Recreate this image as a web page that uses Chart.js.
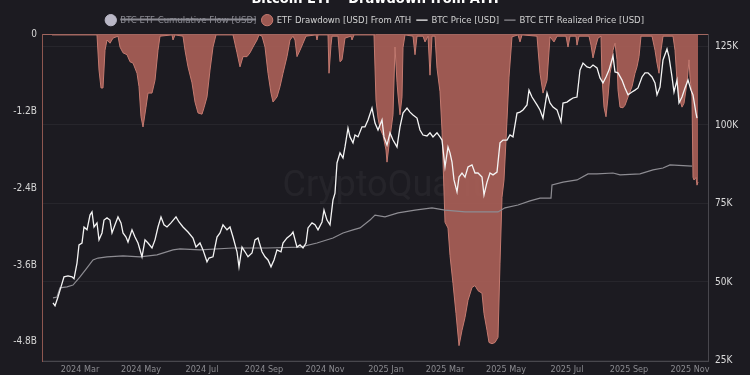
<!DOCTYPE html>
<html>
<head>
<meta charset="utf-8">
<script src="https://cdn.jsdelivr.net/npm/chart.js@4.4.1/dist/chart.umd.min.js"></script>
<style>
  html, body { margin: 0; padding: 0; background: #1c1b21; overflow: hidden; }
  #wrap { position: absolute; left: 0; top: -14px; width: 750px; height: 389px; }
</style>
</head>
<body>
<div id="wrap"><canvas id="chart"></canvas></div>
<script>
// --- x axis: days counted from 2024-01-01 ---
const tickDays = [60, 121, 182, 244, 305, 366, 425, 486, 547, 609, 670];
const tickLabels = ['2024 Mar', '2024 May', '2024 Jul', '2024 Sep', '2024 Nov', '2025 Jan',
                    '2025 Mar', '2025 May', '2025 Jul', '2025 Sep', '2025 Nov'];

// left axis (billions USD) and right axis (thousands USD)
const drawdownTicks = [0, -1.2, -2.4, -3.6, -4.8];
const priceTicks = [25, 50, 75, 100, 125];

// BTC price [USD, thousands]
const priceDays = [
  33, 35, 38, 41, 44, 48, 52, 54, 57, 59,
  62, 64, 67, 70, 72, 74, 77, 79, 82, 84,
  87, 90, 92, 95, 98, 101, 103, 106, 108, 112,
  115, 118, 122, 125, 128, 132, 135, 138, 141, 144,
  147, 151, 156, 159, 163, 168, 173, 176, 180, 183,
  187, 189, 193, 197, 200, 203, 207, 210, 213, 217,
  219, 222, 225, 228, 232, 235, 238, 242, 245, 248,
  251, 254, 257, 261, 263, 267, 271, 273, 277, 280,
  283, 286, 288, 292, 295, 298, 302, 304, 307, 310,
  313, 315, 317, 320, 323, 325, 328, 330, 333, 335,
  338, 342, 345, 348, 352, 355, 358, 362, 364, 367,
  370, 373, 377, 380, 383, 387, 390, 393, 397, 400,
  403, 407, 410, 413, 417, 420, 422, 425, 428, 430,
  432, 434, 437, 439, 442, 445, 448, 452, 455, 458,
  462, 464, 467, 470, 473, 477, 480, 483, 487, 490,
  493, 497, 500, 503, 507, 509, 512, 517, 520, 523,
  527, 530, 533, 537, 541, 543, 547, 550, 553, 557,
  560, 563, 567, 570, 573, 577, 580, 583, 586, 589,
  593, 595, 598, 602, 605, 608, 612, 615, 618, 622,
  625, 628, 632, 635, 637, 640, 643, 647, 649, 652,
  654, 657, 659, 662, 665, 668, 671, 673, 676, 677
];
const priceValues = [
  43.3, 42.4, 45.2, 48.4, 51.6, 51.9, 51.6, 51.0, 56.0, 61.8,
  62.4, 67.5, 66.6, 71.3, 72.3, 67.5, 68.8, 63.4, 65.6, 69.7,
  70.4, 69.7, 65.6, 68.2, 70.7, 68.8, 65.6, 64.3, 62.7, 66.6,
  64.3, 62.4, 58.0, 63.4, 62.4, 60.8, 63.4, 67.5, 70.7, 68.2,
  67.5, 68.8, 70.7, 69.1, 67.5, 65.9, 64.0, 61.1, 62.4, 60.2,
  56.4, 57.6, 58.0, 64.3, 65.6, 68.2, 66.6, 67.5, 64.3, 59.6,
  54.8, 61.1, 59.6, 58.0, 59.2, 63.4, 64.0, 59.6, 58.0, 57.0,
  54.8, 57.0, 60.2, 59.6, 62.4, 64.0, 65.0, 65.9, 61.1, 61.8,
  60.8, 62.4, 67.2, 68.8, 68.2, 66.6, 69.1, 72.9, 69.7, 68.2,
  76.1, 78.3, 87.9, 91.1, 89.5, 93.0, 99.0, 96.2, 94.3, 96.8,
  96.2, 99.4, 99.4, 101.6, 105.4, 100.6, 98.4, 101.6, 96.2, 93.6,
  97.5, 95.2, 93.0, 99.4, 103.8, 105.4, 104.1, 103.2, 102.2, 98.4,
  96.8, 96.5, 97.5, 96.2, 97.5, 96.2, 95.2, 86.6, 93.0, 91.1,
  88.2, 82.5, 78.7, 83.4, 84.7, 83.4, 86.6, 87.3, 84.7, 84.7,
  83.4, 77.7, 81.8, 84.7, 84.1, 85.0, 94.3, 95.2, 95.2, 96.8,
  96.2, 103.8, 104.1, 104.8, 106.4, 111.1, 108.9, 106.4, 104.8, 102.2,
  110.2, 107.0, 105.7, 104.8, 101.0, 107.0, 107.3, 108.0, 108.6, 108.9,
  117.5, 119.7, 118.5, 118.2, 119.1, 118.2, 115.0, 113.4, 115.3, 117.5,
  122.0, 116.9, 116.6, 114.3, 111.8, 109.6, 110.5, 111.1, 111.8, 115.3,
  116.6, 116.6, 115.3, 113.4, 109.6, 112.1, 120.7, 124.2, 121.7, 115.3,
  110.5, 114.3, 107.0, 108.9, 111.8, 114.3, 111.1, 109.6, 103.8, 102.2
];

// BTC ETF realized price [USD, thousands]
const realizedDays = [
  33, 37, 40, 47, 53, 60, 67, 73, 78, 87,
  103, 120, 137, 153, 160, 180, 213, 247, 280, 297,
  313, 323, 333, 340, 350, 355, 365, 378, 395, 412,
  425, 445, 462, 478, 485, 498, 510, 520, 531, 532,
  543, 557, 568, 577, 593, 600, 620, 633, 643, 650,
  672
];
const realizedValues = [
  44.9, 45.2, 48.1, 48.4, 49.0, 51.6, 54.5, 57.0, 57.6, 58.0,
  58.3, 58.0, 58.6, 60.2, 60.5, 60.2, 60.8, 60.8, 61.1, 62.4,
  64.0, 65.6, 66.6, 67.2, 69.7, 71.3, 70.7, 72.0, 72.9, 73.6,
  72.9, 72.3, 72.3, 72.3, 73.6, 74.5, 75.8, 76.7, 76.7, 80.9,
  81.8, 82.5, 84.4, 84.4, 84.7, 84.1, 84.4, 85.7, 86.3, 87.3,
  86.9
];

// ETF drawdown from ATH [USD, billions]
const drawdownDays = [
  32, 77, 79, 81, 83, 85, 87, 90, 93, 98,
  100, 103, 107, 110, 113, 117, 119, 121, 123, 126,
  128, 132, 135, 138, 140, 152, 153, 155, 163, 165,
  168, 172, 175, 178, 182, 184, 187, 190, 193, 196,
  213, 217, 220, 223, 227, 230, 233, 237, 239, 242,
  245, 248, 251, 253, 257, 260, 263, 267, 270, 273,
  275, 277, 280, 283, 286, 296, 297, 298, 308, 309,
  311, 312, 318, 320, 322, 325, 331, 332, 334, 354,
  356, 358, 360, 363, 366, 367, 369, 370, 373, 375,
  377, 378, 380, 382, 383, 385, 393, 395, 397, 403,
  405, 408, 410, 412, 415, 417, 420, 422, 425, 428,
  430, 433, 436, 439, 442, 445, 448, 452, 455, 458,
  462, 464, 467, 469, 472, 475, 478, 480, 482, 484,
  487, 489, 492, 498, 500, 502, 517, 520, 523, 527,
  530, 534, 537, 546, 548, 550, 556, 557, 559, 569,
  571, 573, 576, 578, 581, 582, 584, 586, 588, 590,
  592, 593, 595, 597, 598, 600, 603, 605, 608, 612,
  615, 617, 619, 621, 632, 635, 637, 639, 641, 643,
  653, 655, 657, 659, 662, 664, 667, 669, 670, 672,
  673, 674, 676, 677, 678
];
const drawdownValues = [
  0, 0, -0.55, -0.83, -0.83, -0.24, -0.08, -0.13, -0.05, -0.02,
  -0.19, -0.28, -0.31, -0.42, -0.44, -0.60, -0.81, -1.28, -1.44, -1.13,
  -0.91, -0.91, -0.71, -0.24, -0.02, 0, -0.08, 0, -0.02, -0.24,
  -0.50, -0.75, -1.05, -1.22, -1.24, -1.14, -0.97, -0.55, -0.19, 0,
  0, -0.28, -0.50, -0.34, -0.34, -0.28, -0.19, -0.08, 0, -0.02,
  -0.19, -0.60, -0.91, -1.05, -0.97, -0.81, -0.60, -0.34, -0.08, -0.02,
  -0.08, -0.34, -0.24, -0.13, -0.02, 0, -0.08, 0, 0, -0.60,
  -0.16, -0.02, -0.02, -0.42, -0.39, -0.05, -0.02, -0.08, 0, 0,
  -1.02, -1.30, -1.46, -1.57, -1.80, -1.99, -1.72, -1.60, -1.25, -0.19,
  -0.74, -0.94, -1.25, -0.97, -0.20, 0, -0.02, -0.31, -0.02, -0.02,
  -0.11, -0.02, -0.63, -0.02, -0.02, -0.52, -0.89, -1.49, -2.93, -3.02,
  -3.45, -3.89, -4.36, -4.86, -4.62, -4.42, -4.15, -3.95, -3.92, -4.00,
  -4.04, -4.36, -4.62, -4.81, -4.83, -4.81, -4.73, -3.57, -2.54, -2.27,
  -1.33, -0.66, -0.03, 0, -0.11, 0, -0.02, -0.60, -0.91, -0.71,
  -0.03, -0.11, -0.02, -0.02, -0.19, -0.02, -0.02, -0.16, -0.02, -0.02,
  -0.16, -0.36, -0.16, -0.05, -0.02, -0.66, -1.13, -1.28, -0.97, -0.60,
  -0.44, -0.24, -0.13, -0.39, -0.86, -1.13, -1.14, -1.10, -0.97, -0.81,
  -0.60, -0.50, -0.34, -0.02, -0.02, -0.24, -0.44, -0.60, -0.24, -0.02,
  -0.02, -0.24, -0.71, -0.97, -1.13, -1.07, -0.75, -0.39, -0.66, -0.97,
  -2.23, -2.27, -2.23, -2.35, -2.30
];

const toPoints = (xs, ys) => xs.map((x, i) => ({ x: x, y: ys[i] }));

const FONT = "'DejaVu Sans Condensed', 'Liberation Sans Narrow', sans-serif";

// fond sombre + filigrane
const backdrop = {
  id: 'backdrop',
  beforeDraw(chart) {
    const c = chart.ctx;
    c.save();
    c.fillStyle = '#1c1b21';
    c.fillRect(0, 0, chart.width, chart.height);
    c.restore();
  },
  beforeDatasetsDraw(chart) {
    const c = chart.ctx;
    const a = chart.chartArea;
    c.save();
    c.font = "36px 'Roboto', sans-serif";
    c.fillStyle = 'rgba(255,255,255,0.045)';
    c.textAlign = 'center';
    c.textBaseline = 'middle';
    c.fillText('CryptoQuant', (a.left + a.right) / 2 + 8, a.top + 152);
    c.restore();
  }
};

new Chart(document.getElementById('chart'), {
  type: 'line',
  data: {
    datasets: [
      {
        label: 'BTC ETF Cumulative Flow [USD]',
        data: [],
        hidden: true,
        yAxisID: 'yDD',
        backgroundColor: '#b9b7c6',
        borderColor: '#b9b7c6',
        pointStyle: 'circle'
      },
      {
        label: 'ETF Drawdown [USD] From ATH',
        data: toPoints(drawdownDays, drawdownValues),
        yAxisID: 'yDD',
        fill: 'origin',
        backgroundColor: 'rgba(172,96,88,0.9)',
        borderColor: '#c47a70',
        borderWidth: 1,
        pointRadius: 0,
        pointStyle: 'circle',
        order: 3
      },
      {
        label: 'BTC Price [USD]',
        data: toPoints(priceDays, priceValues),
        yAxisID: 'yPrice',
        borderColor: '#f4f4f4',
        backgroundColor: '#f4f4f4',
        borderWidth: 1.3,
        pointRadius: 0,
        pointStyle: 'line',
        order: 1
      },
      {
        label: 'BTC ETF Realized Price [USD]',
        data: toPoints(realizedDays, realizedValues),
        yAxisID: 'yPrice',
        borderColor: '#8d8c92',
        backgroundColor: '#8d8c92',
        borderWidth: 1.2,
        pointRadius: 0,
        pointStyle: 'line',
        order: 2
      }
    ]
  },
  options: {
    responsive: true,
    maintainAspectRatio: false,
    animation: false,
    layout: { padding: 0 },
    plugins: {
      title: {
        display: true,
        text: 'Bitcoin ETF - Drawdown from ATH',
        color: '#ffffff',
        font: { family: FONT, size: 14.5, weight: 'bold' },
        padding: { top: 5, bottom: 1 }
      },
      legend: {
        position: 'top',
        labels: {
          usePointStyle: true,
          boxHeight: 8,
          padding: 6,
          color: '#d2d2d2',
          font: { family: FONT, size: 9.5 },
          sort: (a, b) => a.datasetIndex - b.datasetIndex,
          generateLabels(chart) {
            const items = Chart.defaults.plugins.legend.labels.generateLabels(chart);
            items.forEach(it => { if (it.hidden) it.fontColor = '#8a8a92'; });
            return items;
          }
        }
      },
      tooltip: { enabled: false }
    },
    scales: {
      x: {
        type: 'linear',
        min: 22,
        max: 688,
        afterBuildTicks: (scale) => { scale.ticks = tickDays.map(v => ({ value: v })); },
        afterFit: (scale) => { scale.height = 14; },
        ticks: {
          autoSkip: false,
          maxRotation: 0,
          padding: 3,
          color: '#8b8b90',
          font: { family: FONT, size: 9 },
          callback: (v) => tickLabels[tickDays.indexOf(v)]
        },
        grid: { display: false, drawTicks: false },
        border: { color: '#48474d' }
      },
      yDD: {
        position: 'left',
        min: -5.1,
        max: 0,
        afterBuildTicks: (scale) => { scale.ticks = drawdownTicks.map(v => ({ value: v })); },
        afterFit: (scale) => { scale.width = 42; },
        ticks: {
          padding: 5,
          color: '#d6d6d6',
          font: { family: FONT, size: 10 },
          callback: (v) => v === 0 ? '0' : v.toFixed(1) + 'B'
        },
        grid: {
          drawTicks: false,
          color: (c) => c.tick && c.tick.value === 0 ? 'rgba(196,122,112,0.8)' : 'transparent'
        },
        border: { color: '#8e5750' }
      },
      yPrice: {
        position: 'right',
        min: 24.8,
        max: 128.7,
        afterBuildTicks: (scale) => { scale.ticks = priceTicks.map(v => ({ value: v })); },
        afterFit: (scale) => { scale.width = 42; },
        ticks: {
          padding: 7,
          color: '#dcdcdc',
          font: { family: FONT, size: 10 },
          callback: (v) => v + 'K'
        },
        grid: { drawTicks: false, color: '#27262c' },
        border: { color: '#48474d' }
      }
    }
  },
  plugins: [backdrop]
});
</script>
</body>
</html>
